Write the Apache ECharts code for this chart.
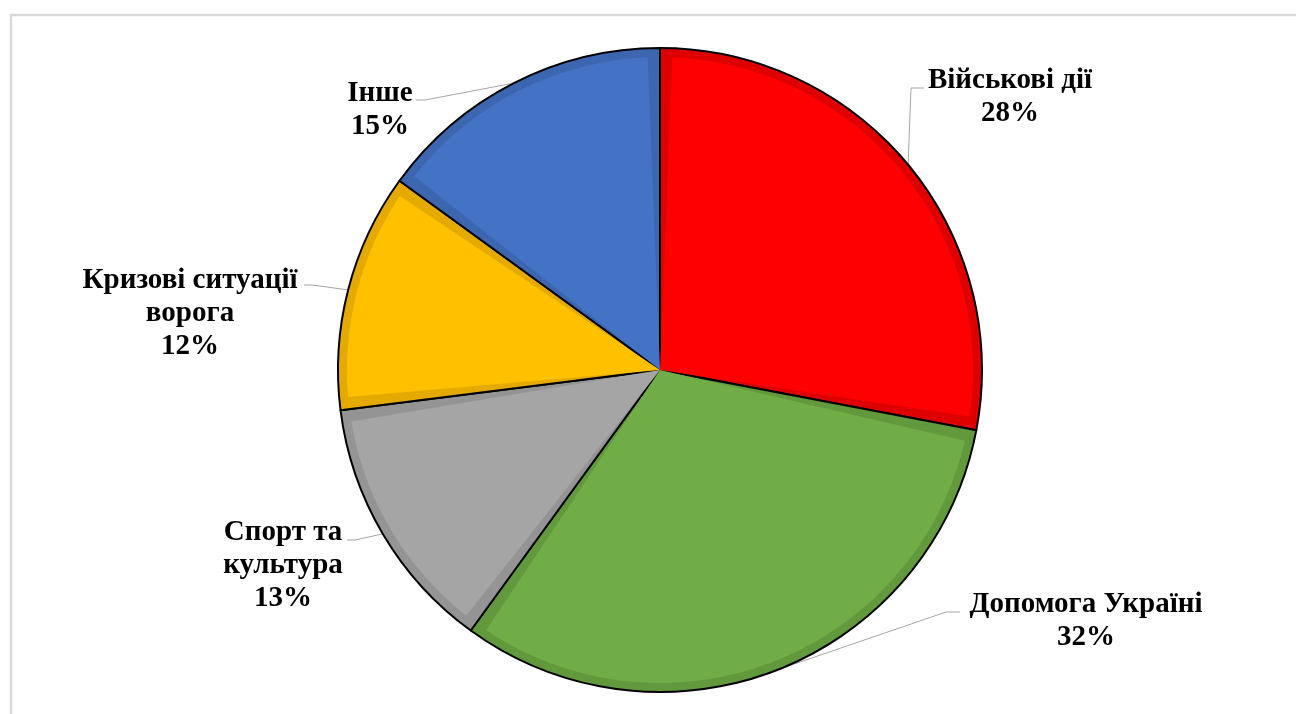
<!DOCTYPE html>
<html><head><meta charset="utf-8">
<script src="https://cdn.jsdelivr.net/npm/echarts@6/dist/echarts.min.js"></script>
<style>html,body{margin:0;padding:0;background:#fff}#c{width:1296px;height:714px}</style>
</head><body><div id="c"></div>
<script>
const categories = ['Військові дії','Допомога Україні','Спорт та культура','Кризові ситуації ворога','Інше'];
const labelTexts = ['Військові дії','Допомога Україні','Спорт та\nкультура','Кризові ситуації\nворога','Інше'];
const percents = [28, 32, 13, 12, 15];
const colors = ['#FF0000','#70AD47','#A5A5A5','#FFC000','#4472C4'];
const rimColors = ['#DE0000','#62993C','#949494','#E5AA00','#3C66B0'];
// label block centres and label-line bends (layout only)
const labelPos = [[1010,97],[1086,621],[283,566],[190,314],[380,110]];
const lineBends = [[[911,88],[924,88]], [[946,612],[960,612]], [[355,540],[347,540]], [[312,285],[304,285]], [[425,100],[416,100]]];

const chart = echarts.init(document.getElementById('c'));
const data = categories.map((c,i)=>({name:c, value:percents[i]}));
const option = {
  animation:false,
  graphic:[{type:'rect', shape:{x:11,y:15,width:1400,height:800}, style:{fill:'none',stroke:'#d9d9d9',lineWidth:2.5}, z:-1}],
  series:[
    {type:'pie', radius:322, center:[660,370], startAngle:90, clockwise:true,
     data: data.map((d,i)=>({...d, itemStyle:{color:rimColors[i]}})),
     itemStyle:{borderColor:'#000', borderWidth:2},
     label:{show:true, formatter:p=>labelTexts[p.dataIndex]+'\n'+p.value+'%',
       fontFamily:'"Liberation Serif","Times New Roman",serif', fontWeight:'bold', fontSize:29, lineHeight:33, color:'#000', align:'center'},
     labelLine:{show:true, lineStyle:{color:'#A6A6A6', width:1}},
     labelLayout: p => {
       const res = {x:labelPos[p.dataIndex][0], y:labelPos[p.dataIndex][1], align:'center', verticalAlign:'middle'};
       if (p.labelLinePoints && p.labelLinePoints.length) {
         res.labelLinePoints = [p.labelLinePoints[0]].concat(lineBends[p.dataIndex]);
       }
       return res;
     },
     emphasis:{disabled:true}, silent:true},
    {type:'pie', radius:313, center:[660,370], startAngle:90, clockwise:true, padAngle:4.5, silent:true,
     label:{show:false}, labelLine:{show:false},
     data: data.map((d,i)=>({...d, itemStyle:{color:colors[i]}})), emphasis:{disabled:true}}
  ]
};
chart.setOption(option);
</script></body></html>
